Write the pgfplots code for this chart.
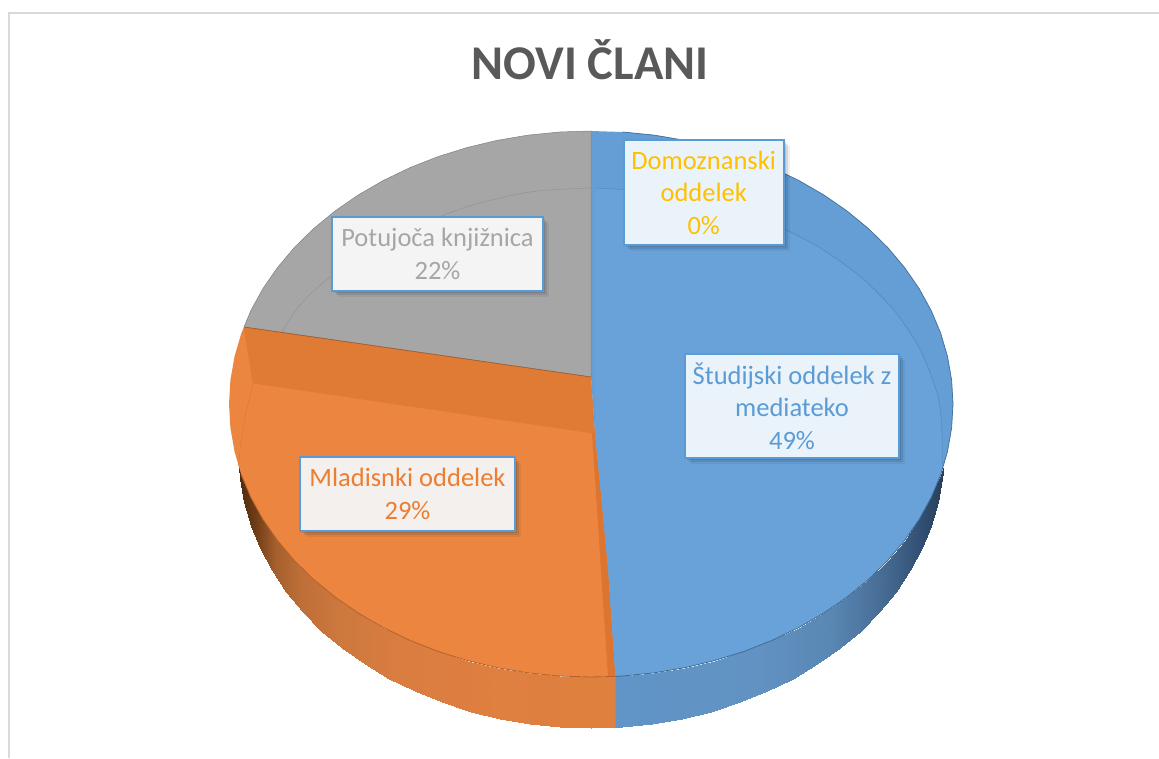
\documentclass[border=0pt]{standalone}
\usepackage{fontspec}
\setmainfont{Carlito}
\usepackage{pgfplots}
\pgfplotsset{compat=1.18}
\usetikzlibrary{shadows}

\definecolor{faceblue}{HTML}{649ED5}
\definecolor{innerblue}{HTML}{69A2D8}
\definecolor{faceorange}{HTML}{EB853F}
\definecolor{wallorange}{HTML}{E07B36}
\definecolor{edgeorange}{HTML}{DD7530}
\definecolor{facegray}{HTML}{A6A6A6}
\definecolor{lineblue}{HTML}{5B9BD5}

\tikzset{
  lab/.style={draw=lineblue, line width=2.4pt, align=center, inner sep=0pt,
    font=\fontsize{26.5}{32.5}\selectfont,
    drop shadow={shadow xshift=2pt, shadow yshift=-2pt, opacity=.15, fill=black!70!lineblue},
    drop shadow={shadow xshift=4pt, shadow yshift=-4pt, opacity=.12, fill=black!70!lineblue},
    drop shadow={shadow xshift=6pt, shadow yshift=-6pt, opacity=.08, fill=black!70!lineblue}},
}

\begin{document}
\begin{tikzpicture}
\useasboundingbox (0,0) rectangle (1159pt,758pt);
\begin{axis}[
  at={(0,0)}, anchor=south west,
  x=1pt, y=1pt, y dir=reverse,
  xmin=0, xmax=1159, ymin=0, ymax=758,
  axis lines=none,
  point meta min=229, point meta max=953,
  colormap={wall}{
    rgb255(229pt)=(70,38,12) rgb255(240pt)=(80,45,15) rgb255(255pt)=(110,60,22)
    rgb255(275pt)=(165,95,45) rgb255(300pt)=(190,110,55) rgb255(340pt)=(205,120,62)
    rgb255(400pt)=(218,125,65) rgb255(500pt)=(223,127,64) rgb255(615pt)=(224,128,62)
    rgb255(616pt)=(97,149,199) rgb255(760pt)=(97,146,194) rgb255(830pt)=(90,135,180)
    rgb255(880pt)=(72,110,150) rgb255(920pt)=(50,80,115) rgb255(953pt)=(35,55,80)
  },
]
% frame of the chart area
\draw[color=black!15, line width=2pt] (9,758) -- (9,13) -- (1159,13);

% side wall
\addplot[patch, patch type=rectangle, shader=interp, point meta=x] coordinates {
  (238.5,466) (241.3,474.7) (240.3,478.8) (238.5,466)
  (241.3,474.7) (241.3,474.7) (244.3,502.4) (240.3,478.8)
  (241.3,474.7) (250.8,497.4) (251,525.7) (244.3,502.4)
  (250.8,497.4) (262.9,519.4) (260.2,548.4) (251,525.7)
  (262.9,519.4) (277.5,540.5) (272,570.4) (260.2,548.4)
  (277.5,540.5) (277.5,540.5) (286.2,591.5) (272,570.4)
  (277.5,540.5) (294.4,560.6) (302.6,611.6) (286.2,591.5)
  (294.4,560.6) (313.7,579.5) (321.4,630.5) (302.6,611.6)
  (313.7,579.5) (335,597) (342.1,648) (321.4,630.5)
  (335,597) (358.3,613.1) (364.7,664.1) (342.1,648)
  (358.3,613.1) (383.4,627.6) (389.1,678.6) (364.7,664.1)
  (383.4,627.6) (410,640.4) (415,691.4) (389.1,678.6)
  (410,640.4) (438,651.4) (442.2,702.4) (415,691.4)
  (438,651.4) (467.2,660.5) (470.6,711.5) (442.2,702.4)
  (467.2,660.5) (497.3,667.7) (499.9,718.7) (470.6,711.5)
  (497.3,667.7) (528.2,672.9) (529.9,723.9) (499.9,718.7)
  (528.2,672.9) (559.4,676) (560.3,727) (529.9,723.9)
  (559.4,676) (591,677) (591,728) (560.3,727)
  (591,677) (615,676.4) (615,727.4) (591,728)
  (616,676.3) (622.6,676) (621.7,727) (616,727.3)
  (622.6,676) (653.8,672.9) (652.1,723.9) (621.7,727)
  (653.8,672.9) (684.7,667.7) (682.1,718.7) (652.1,723.9)
  (684.7,667.7) (714.8,660.5) (711.4,711.5) (682.1,718.7)
  (714.8,660.5) (744,651.4) (739.8,702.4) (711.4,711.5)
  (744,651.4) (772,640.4) (767,691.4) (739.8,702.4)
  (772,640.4) (798.6,627.6) (792.9,678.6) (767,691.4)
  (798.6,627.6) (823.7,613.1) (817.3,664.1) (792.9,678.6)
  (823.7,613.1) (847,597) (839.9,648) (817.3,664.1)
  (847,597) (868.3,579.5) (860.6,630.5) (839.9,648)
  (868.3,579.5) (887.6,560.6) (879.4,611.6) (860.6,630.5)
  (887.6,560.6) (904.5,540.5) (895.8,591.5) (879.4,611.6)
  (904.5,540.5) (904.5,540.5) (910,570.4) (895.8,591.5)
  (904.5,540.5) (919.1,519.4) (921.8,548.4) (910,570.4)
  (919.1,519.4) (931.2,497.4) (931,525.7) (921.8,548.4)
  (931.2,497.4) (940.7,474.7) (937.7,502.4) (931,525.7)
  (940.7,474.7) (940.7,474.7) (941.7,478.8) (937.7,502.4)
  (940.7,474.7) (943.5,466) (943.5,466) (941.7,478.8)
};
\addplot[color=wallorange, line width=.8pt] coordinates {(615.5,676.4) (615.5,727.5)};

% gray slice, Potujoca knjiznica
\addplot[fill=facegray, draw=black!50, line width=.5pt] coordinates {
  (591,377) (244,327) (250.8,310.6) (262.9,288.6) (277.5,267.5) (294.4,247.4)
  (313.7,228.5) (335,211) (358.3,194.9) (383.4,180.4) (410,167.6) (438,156.6)
  (467.2,147.5) (497.3,140.3) (528.2,135.1) (559.4,132) (591,131)
} -- cycle;

% orange slice, Mladisnki oddelek
\addplot[fill=faceorange, draw=none] coordinates {
  (591,377) (244,327) (241.3,333.3) (234.5,356.6) (230.4,380.2) (229,404) (230.4,427.8)
  (234.5,451.4) (241.3,474.7) (250.8,497.4) (262.9,519.4) (277.5,540.5) (294.4,560.6)
  (313.7,579.5) (335,597) (358.3,613.1) (383.4,627.6) (410,640.4) (438,651.4)
  (467.2,660.5) (497.3,667.7) (528.2,672.9) (559.4,676) (591,677) (615.5,676.4)
  (608,567) (600,483) (595,433)
} -- cycle;
\addplot[fill=wallorange, draw=none] coordinates {
  (244,327) (591,377) (595,433) (592,433) (253,383)
} -- cycle;
\addplot[fill=edgeorange, draw=none] coordinates {
  (592,433) (595,433) (600,483) (608,567) (615.5,676.4) (608,676.6)
} -- cycle;
\addplot[color=black!60!wallorange, opacity=.45, line width=.7pt] coordinates {(244,327) (591,377)};
\addplot[color=wallorange, line width=.5pt] coordinates {(253,383) (592,433)};
\addplot[color=wallorange, line width=.5pt] coordinates {(244,327) (253,383) (245,417) (240,450) (238.5,466)};

% blue slice, Studijski oddelek
\addplot[fill=faceblue, draw=none] coordinates {
  (591,377) (591,131) (622.6,132) (653.8,135.1) (684.7,140.3) (714.8,147.5) (744,156.6)
  (772,167.6) (798.6,180.4) (823.7,194.9) (847,211) (868.3,228.5) (887.6,247.4)
  (904.5,267.5) (919.1,288.6) (931.2,310.6) (940.7,333.3) (947.5,356.6) (951.6,380.2)
  (953,404) (951.6,427.8) (947.5,451.4) (940.7,474.7) (931.2,497.4) (919.1,519.4)
  (904.5,540.5) (887.6,560.6) (868.3,579.5) (847,597) (823.7,613.1) (798.6,627.6)
  (772,640.4) (744,651.4) (714.8,660.5) (684.7,667.7) (653.8,672.9) (622.6,676)
  (615.5,676.4) (608,567) (600,483) (595,433)
} -- cycle;
\addplot[fill=innerblue, draw=none] coordinates {
  (595,377) (595,188) (652,191.8) (711,202.9) (766.5,221.1) (816.6,245.8) (859.9,276.2)
  (895,311.5) (920.8,350.5) (936.7,392.1) (940.7,413.5) (942,435) (942,465)
  (940.7,474.7) (931.2,497.4) (919.1,519.4)
  (904.5,540.5) (887.6,560.6) (868.3,579.5) (847,597) (823.7,613.1) (798.6,627.6)
  (772,640.4) (744,651.4) (714.8,660.5) (684.7,667.7) (653.8,672.9) (622.6,676)
  (615.5,676.4) (608,567) (600,483) (595,433)
} -- cycle;
\addplot[color=lineblue, line width=1.2pt] coordinates {(591.5,131) (591.5,377)};

% top rim lines
\addplot[color=black!25!lineblue, line width=.8pt] coordinates {
  (622.6,132) (653.8,135.1) (684.7,140.3) (714.8,147.5) (744,156.6)
  (772,167.6) (798.6,180.4) (823.7,194.9) (847,211) (868.3,228.5) (887.6,247.4)
  (904.5,267.5) (919.1,288.6) (931.2,310.6) (940.7,333.3) (947.5,356.6) (951.6,380.2)
  (953,404) (951.6,427.8) (947.5,451.4) (940.7,474.7)};
\addplot[color=black!30!lineblue, line width=.8pt] coordinates {
  (940.7,474.7) (931.2,497.4) (919.1,519.4)
  (904.5,540.5) (887.6,560.6) (868.3,579.5) (847,597) (823.7,613.1) (798.6,627.6)
  (772,640.4) (744,651.4) (714.8,660.5) (684.7,667.7) (653.8,672.9) (622.6,676) (615.5,676.4)};
\addplot[color=black!20!wallorange, line width=.8pt] coordinates {
  (241.3,474.7) (250.8,497.4) (262.9,519.4) (277.5,540.5) (294.4,560.6)
  (313.7,579.5) (335,597) (358.3,613.1) (383.4,627.6) (410,640.4) (438,651.4)
  (467.2,660.5) (497.3,667.7) (528.2,672.9) (559.4,676) (591,677) (615.5,676.4)};

% inner bevel lines
\addplot[color=black!40!lineblue, opacity=.35, line width=.5pt, smooth] coordinates {
  (595,188) (652,191.8) (711,202.9) (766.5,221.1) (816.6,245.8) (859.9,276.2)
  (895,311.5) (920.8,350.5) (936.7,392.1) (940.7,413.5) (942,435) (942,465)};
\addplot[color=black!60, opacity=.3, line width=.5pt, smooth] coordinates {
  (591,188) (530,192) (463,208) (400,235) (333,275) (300,305) (282,332)};

% labels
\node[lab, fill=blue!4!gray!8, minimum width=211pt, minimum height=74pt, text=facegray]
  at (437.5,254) {Potujoča knjižnica\\22\%};
\node[lab, fill=lineblue!12, minimum width=160pt, minimum height=105pt, text={rgb,255:red,255;green,192;blue,0}]
  at (703.7,192.5) {Domoznanski\\oddelek\\0\%};
\node[lab, fill=lineblue!12, minimum width=214pt, minimum height=104pt, text=lineblue]
  at (792,406) {Študijski oddelek z\\mediateko\\49\%};
\node[lab, fill={rgb,255:red,244;green,240;blue,237}, minimum width=215pt, minimum height=74pt,
  text={rgb,255:red,237;green,125;blue,49}]
  at (407.5,494) {Mladisnki oddelek\\29\%};

% title
\node[anchor=base, font=\fontsize{48.5}{54}\selectfont\bfseries, text={rgb,255:red,89;green,89;blue,89}]
  at (590,79) {NOVI ČLANI};
\end{axis}
\end{tikzpicture}
\end{document}
